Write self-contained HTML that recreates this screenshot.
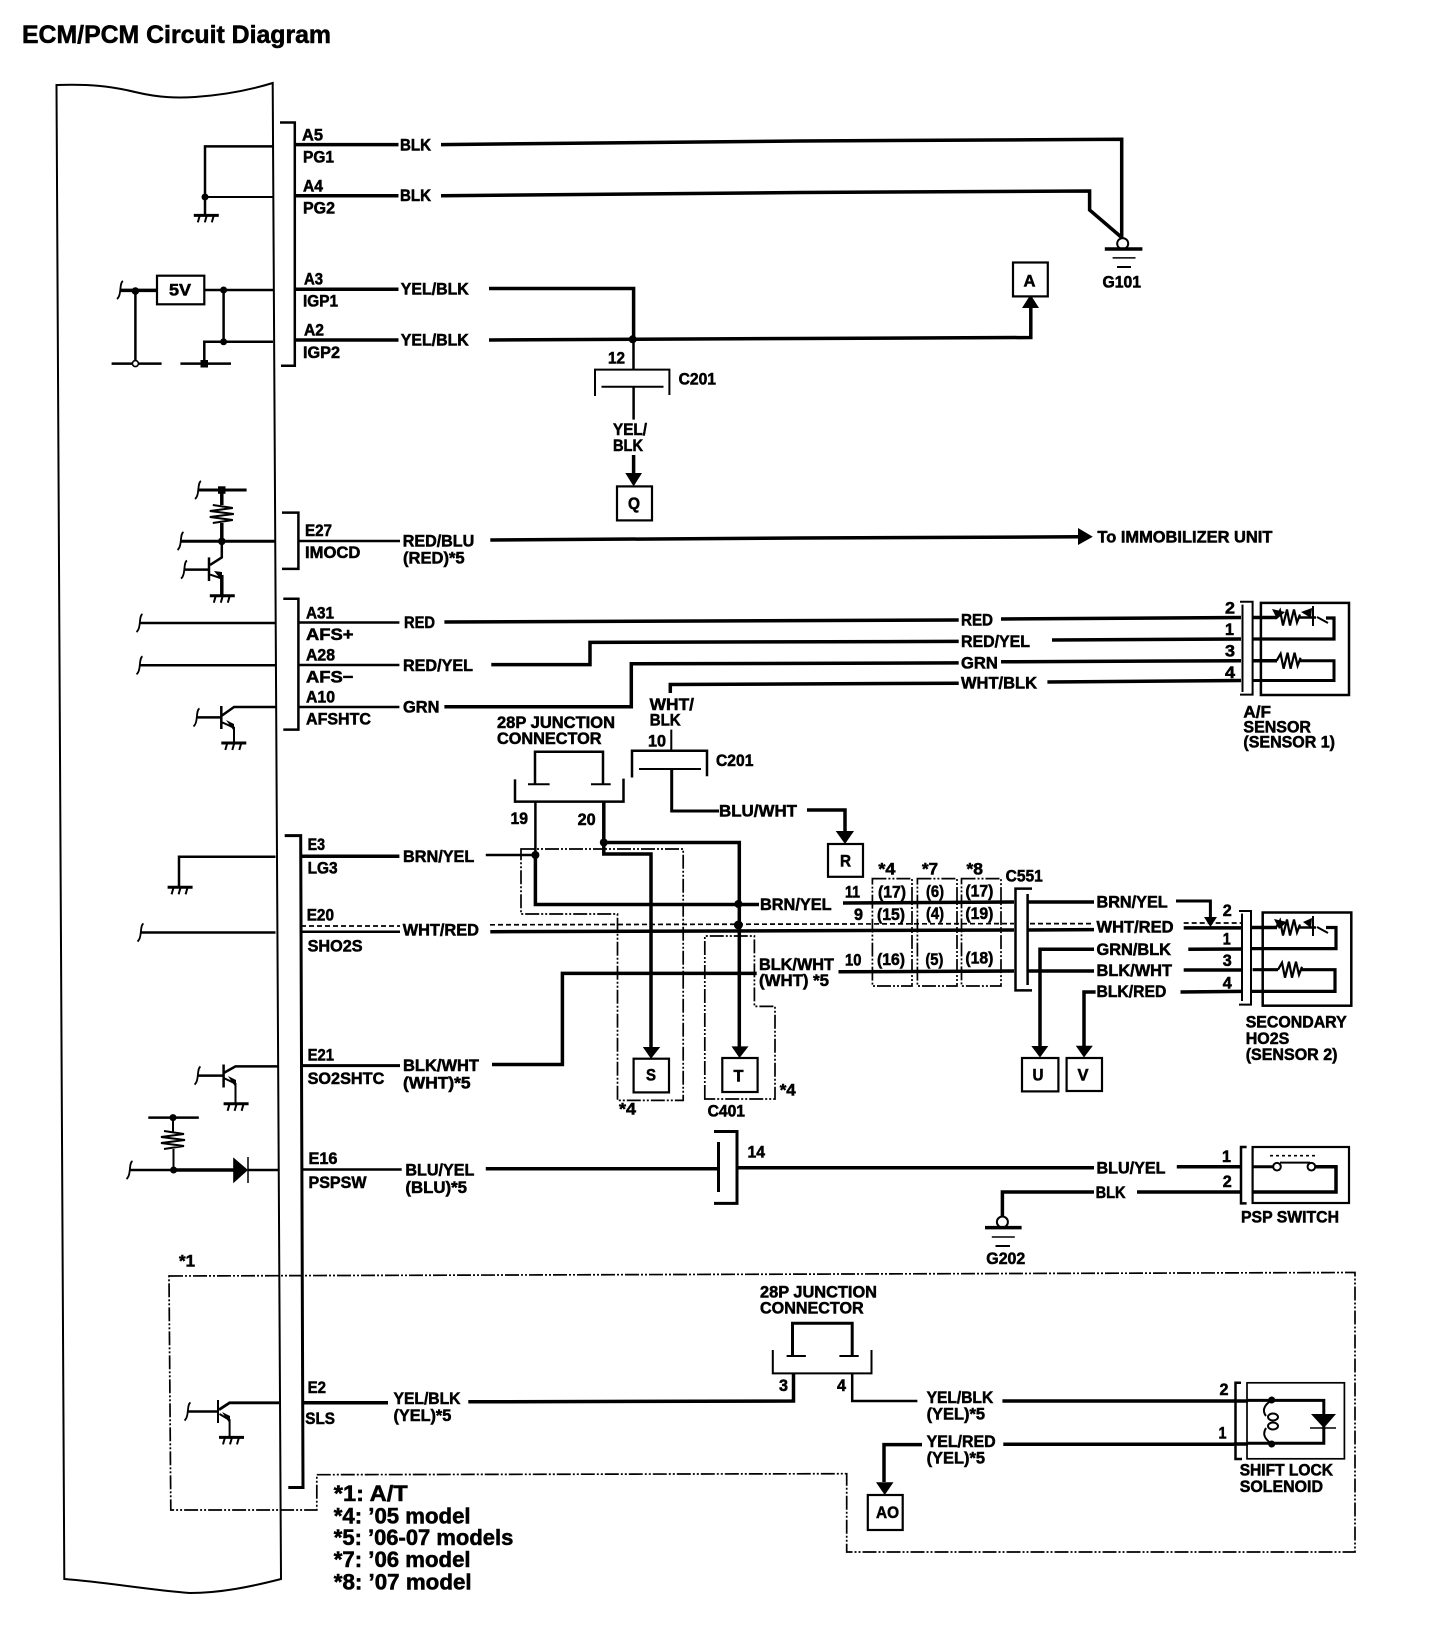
<!DOCTYPE html>
<html lang="en"><head><meta charset="utf-8"><title>ECM/PCM Circuit Diagram</title>
<style>
html,body{margin:0;padding:0;background:#fff}
svg{display:block}
text{font-family:"Liberation Sans",sans-serif;font-weight:700;font-size:17px;dominant-baseline:central;fill:#000;stroke:#000;stroke-width:.55}
.p{fill:none;stroke:#000;stroke-width:3.5}
.m{fill:none;stroke:#000;stroke-width:2.5}
.n{fill:none;stroke:#000;stroke-width:2}
.h{fill:none;stroke:#000;stroke-width:1.5}
.dd{fill:none;stroke:#000;stroke-width:1.7;stroke-dasharray:14 2 2 2 2 2}
.ds{fill:none;stroke:#000;stroke-width:1.7;stroke-dasharray:5 3}
.f{fill:#000;stroke:none}
.b{fill:#fff;stroke:#000;stroke-width:2.2}
</style></head><body>
<svg xmlns="http://www.w3.org/2000/svg" width="1440" height="1632" viewBox="0 0 1440 1632">
<defs>
<g id="gnd" fill="none" stroke="#000"><path d="M0 0H25" stroke-width="3"/><path d="M6 0L4 7M13 0L11 7M20 0L18 7" stroke-width="2"/></g>
<path id="sq" d="M3-9C-1-7 2 5-3 9" fill="none" stroke="#000" stroke-width="1.8"/>
<path id="res" d="M-9 0L11 3L-12 6L12 9L-12 12L11 15L-9 18" fill="none" stroke="#000" stroke-width="2"/>
<path id="zig" d="M0 0L4-7L7 8L11-8L14 8L18-8L21 5L24-3" fill="none" stroke="#000" stroke-width="2.2"/>
</defs>
<rect width="1440" height="1632" fill="#fff"/>

<text x="22" y="35" textLength="309" lengthAdjust="spacingAndGlyphs" style="font-size:25px">ECM/PCM Circuit Diagram</text>

<!-- body -->
<path class="n" d="M64.3 1579L56.5 85C90 84 110 86 135 92C160 98 178 98 195 97C225 95 250 90 272.7 83L281 1579C250 1587 220 1593 190 1593C150 1590 105 1582 64.3 1579Z"/>

<!-- A5..A2 bracket -->
<path class="m" d="M280 122.5H294.8V365.7H281"/>
<path class="p" d="M295 144.6H398.5"/>
<path class="p" d="M441 144.6L800 141L1121.7 139.3V237.5"/>
<path class="p" d="M295 195.7H398.5"/>
<path class="p" d="M441 195.7L800 192.5L1089.6 191V210L1121.7 237.5"/>
<circle class="n" cx="1122.7" cy="243.6" r="5.5" fill="#fff"/>
<path class="p" d="M1104.8 249H1142.4"/><path class="h" d="M1112.6 257.9H1135.5"/><path class="n" d="M1117 267H1131"/>
<text x="1102.5" y="282" textLength="38.5" lengthAdjust="spacingAndGlyphs">G101</text>

<path class="m" d="M272.7 146.4H205V215"/><path class="n" d="M205 197H273"/><circle class="f" cx="205" cy="197" r="3.5"/>
<use href="#gnd" x="193.8" y="215.4"/>

<!-- 5V -->
<use href="#sq" x="120" y="290"/>
<path class="p" d="M120 290.4H157"/>
<rect x="157" y="275.7" width="47.3" height="28.6" fill="#fff" stroke="#000" stroke-width="2.2"/>
<text x="169" y="290" textLength="22" lengthAdjust="spacingAndGlyphs">5V</text>
<path class="m" d="M135.4 291V363.6"/><circle class="f" cx="135.4" cy="291" r="3.8"/>
<path class="m" d="M111.6 363.6H161.6"/><circle cx="135.4" cy="363.6" r="3" fill="#fff" stroke="#000" stroke-width="1.6"/>
<path class="m" d="M204.3 290H273"/><circle class="f" cx="223.6" cy="290" r="3.5"/>
<path class="m" d="M223.6 290V341.8"/><circle class="f" cx="223.6" cy="341.8" r="3.5"/>
<path class="m" d="M273 341.8H204.3V363.6"/><path class="m" d="M180.4 363.6H231"/><rect class="f" x="200.5" y="360" width="7.5" height="7.5"/>

<text x="302" y="135" textLength="21" lengthAdjust="spacingAndGlyphs">A5</text>
<text x="303" y="157" textLength="31" lengthAdjust="spacingAndGlyphs">PG1</text>
<text x="303" y="186" textLength="20" lengthAdjust="spacingAndGlyphs">A4</text>
<text x="303" y="208" textLength="32" lengthAdjust="spacingAndGlyphs">PG2</text>
<text x="304" y="279" textLength="19" lengthAdjust="spacingAndGlyphs">A3</text>
<text x="303" y="301" textLength="35" lengthAdjust="spacingAndGlyphs">IGP1</text>
<text x="304" y="330" textLength="20" lengthAdjust="spacingAndGlyphs">A2</text>
<text x="303" y="352.5" textLength="37" lengthAdjust="spacingAndGlyphs">IGP2</text>
<text x="400" y="145" textLength="31" lengthAdjust="spacingAndGlyphs">BLK</text>
<text x="400" y="195.7" textLength="31" lengthAdjust="spacingAndGlyphs">BLK</text>
<text x="400.8" y="289" textLength="68" lengthAdjust="spacingAndGlyphs">YEL/BLK</text>
<text x="400.8" y="340" textLength="68" lengthAdjust="spacingAndGlyphs">YEL/BLK</text>

<path class="p" d="M295 289.3H398.5"/>
<path class="p" d="M489 288.5H633.6V339"/>
<path class="p" d="M295 340H398.5"/>
<path class="p" d="M489 340L800 338.5L1030.8 337.5V307"/>
<circle class="f" cx="632.7" cy="339.3" r="4"/>
<path class="f" d="M1030.5 294.6L1039 308H1022Z"/>
<rect class="b" x="1013" y="262.5" width="34.8" height="33.9"/>
<text x="1023.5" y="281" textLength="12" lengthAdjust="spacingAndGlyphs">A</text>

<!-- C201 top -->
<path class="m" d="M633.5 339V369"/>
<text x="608" y="358" textLength="17" lengthAdjust="spacingAndGlyphs">12</text>
<path class="n" d="M595 396V369.6H669.4V395"/>
<path class="n" d="M601.5 386.8H663.5"/>
<path class="m" d="M633.6 387V419.6"/>
<text x="678.6" y="379" textLength="37.4" lengthAdjust="spacingAndGlyphs">C201</text>
<text x="613" y="429.6" textLength="34" lengthAdjust="spacingAndGlyphs">YEL/</text>
<text x="613" y="445.4" textLength="30" lengthAdjust="spacingAndGlyphs">BLK</text>
<path class="p" d="M633.6 455V475"/><path class="f" d="M633.6 486.4L625.3 473H642Z"/>
<rect class="b" x="617" y="486.4" width="35" height="34"/>
<text x="628" y="503.6" textLength="12" lengthAdjust="spacingAndGlyphs">Q</text>

<!-- E27 -->
<use href="#sq" x="198" y="490"/>
<path class="m" d="M197.4 490H246.6" style="stroke-width:3"/><rect class="f" x="218" y="486.3" width="7.5" height="7.5"/>
<path class="p" d="M221.8 490V505"/><use href="#res" x="221.8" y="505"/><path class="p" d="M221.8 523V541"/>
<use href="#sq" x="180.5" y="541"/><path class="m" d="M180.4 541.3H275.5" style="stroke-width:3"/><circle class="f" cx="221.8" cy="541.3" r="3.8"/>
<use href="#sq" x="184" y="569.6"/><path class="m" d="M183.6 569.6H209"/><path class="m" d="M209 557.4V581"/>
<path class="m" d="M210 565L221.8 557.4V541"/><path class="n" d="M210 574.6L221.8 578.5"/><path class="p" d="M221.8 575V595.7"/><path class="f" d="M214 571L222 572L222 581Z"/>
<use href="#gnd" x="209.8" y="595.7"/>

<path class="m" d="M282 512.6H298.4V568.9H282"/>
<path class="m" d="M298.4 541H400"/>
<text x="305" y="530.6" textLength="27" lengthAdjust="spacingAndGlyphs">E27</text>
<text x="305" y="552.4" textLength="55.4" lengthAdjust="spacingAndGlyphs">IMOCD</text>
<text x="402.7" y="541" textLength="71.6" lengthAdjust="spacingAndGlyphs">RED/BLU</text>
<text x="403" y="558" textLength="61.6" lengthAdjust="spacingAndGlyphs">(RED)*5</text>
<path class="p" d="M490.3 540L800 538L1080 536.8"/><path class="f" d="M1092.8 536.8L1078 528V545Z"/>
<text x="1097.4" y="536.8" textLength="175" lengthAdjust="spacingAndGlyphs">To IMMOBILIZER UNIT</text>

<!-- AFS -->
<path class="m" d="M283.3 598.7H298.4V729.6H283.3"/>
<text x="306" y="613" textLength="28" lengthAdjust="spacingAndGlyphs">A31</text>
<text x="306" y="634.7" textLength="47.5" lengthAdjust="spacingAndGlyphs">AFS+</text>
<text x="306" y="655" textLength="29" lengthAdjust="spacingAndGlyphs">A28</text>
<text x="306" y="676.8" textLength="47.5" lengthAdjust="spacingAndGlyphs">AFS−</text>
<text x="306" y="697" textLength="29" lengthAdjust="spacingAndGlyphs">A10</text>
<text x="306" y="719" textLength="65" lengthAdjust="spacingAndGlyphs">AFSHTC</text>
<path class="m" d="M298 622.5H399.4"/><path class="m" d="M298 665H399.4"/><path class="m" d="M298 707H399.4"/>
<text x="404" y="622.5" textLength="31" lengthAdjust="spacingAndGlyphs">RED</text>
<text x="403" y="665.7" textLength="70" lengthAdjust="spacingAndGlyphs">RED/YEL</text>
<text x="403" y="707" textLength="36.4" lengthAdjust="spacingAndGlyphs">GRN</text>
<path class="p" d="M444.4 622L958.7 620"/>
<text x="961" y="620" textLength="32" lengthAdjust="spacingAndGlyphs">RED</text>
<path class="p" d="M1001 619L1241 617.5"/>
<path class="p" d="M491.3 664.6H590V642.4L958.7 641.4"/>
<text x="961" y="641.4" textLength="69" lengthAdjust="spacingAndGlyphs">RED/YEL</text>
<path class="p" d="M1052 640L1241 639"/>
<path class="p" d="M444.4 706.7H631.3V663.8L958.7 662.9"/>
<text x="961" y="662.9" textLength="36.8" lengthAdjust="spacingAndGlyphs">GRN</text>
<path class="p" d="M1001 661.8L1241 660.7"/>
<path class="p" d="M670.3 693V684.5L958.7 683.2"/>
<text x="961" y="683.2" textLength="76" lengthAdjust="spacingAndGlyphs">WHT/BLK</text>
<path class="p" d="M1047.4 682L1241 680.5"/>
<use href="#sq" x="139.5" y="623"/><path class="m" d="M139 623H275.5"/>
<use href="#sq" x="139.5" y="665.3"/><path class="m" d="M139 665.3H275.5"/>
<use href="#sq" x="196.5" y="717.4"/><path class="m" d="M196.5 717.4H221.3"/><path class="m" d="M221.3 706V729"/>
<path class="m" d="M275.5 707H234L221.3 716"/><path class="n" d="M221.3 722L234 727.7V743"/><path class="f" d="M226 720L234 724V731Z"/>
<use href="#gnd" x="221.3" y="743"/>

<!-- A/F sensor -->
<path class="n" d="M1240 601.8H1252.6V694.6H1240"/><path class="n" d="M1242.5 604.6V692"/>
<rect x="1260.9" y="602.9" width="88.1" height="92.1" fill="none" stroke="#000" stroke-width="2.5"/>
<text x="1225" y="608" textLength="10" lengthAdjust="spacingAndGlyphs">2</text>
<text x="1225" y="629.6" textLength="9" lengthAdjust="spacingAndGlyphs">1</text>
<text x="1225" y="651" textLength="10" lengthAdjust="spacingAndGlyphs">3</text>
<text x="1225" y="672.5" textLength="10" lengthAdjust="spacingAndGlyphs">4</text>
<path class="p" d="M1252.6 617.5H1277"/><use href="#zig" x="1276" y="617.5"/><path class="p" d="M1326 618H1334V639H1252.6" style="stroke-width:3.2"/>
<path class="m" d="M1298 617.5H1316"/>
<path class="n" d="M1313 606V626M1317 617L1328 623"/><path class="f" d="M1272 609L1285 612L1277 619ZM1301 612L1312 608L1311 618Z"/>
<path class="p" d="M1252.6 660.7H1277"/><use href="#zig" x="1276.6" y="660.7"/><path class="p" d="M1299 660.7H1334V680.5H1252.6" style="stroke-width:3"/>
<text x="1243.4" y="711.8" textLength="27.6" lengthAdjust="spacingAndGlyphs">A/F</text>
<text x="1243.4" y="726.8" textLength="67.6" lengthAdjust="spacingAndGlyphs">SENSOR</text>
<text x="1243.4" y="742" textLength="91.6" lengthAdjust="spacingAndGlyphs">(SENSOR 1)</text>

<!-- 28P junction top -->
<text x="497" y="722.7" textLength="118" lengthAdjust="spacingAndGlyphs">28P JUNCTION</text>
<text x="497" y="738.4" textLength="104.5" lengthAdjust="spacingAndGlyphs">CONNECTOR</text>
<path class="m" d="M535 784V751.8H603V784"/>
<path class="n" d="M528 784.3H549.6M591 784.3H610.7"/>
<path class="m" d="M515 779.4V801.6H623.5V778.6"/>
<text x="510.5" y="818.4" textLength="17.5" lengthAdjust="spacingAndGlyphs">19</text>
<text x="577.6" y="819.6" textLength="18" lengthAdjust="spacingAndGlyphs">20</text>
<path class="m" d="M535.4 801.6V855"/><path class="p" d="M535.4 855V904.5H759"/>
<circle class="f" cx="535.4" cy="855" r="4"/>
<path class="p" d="M603.8 801.6V854H651V1047"/><circle class="f" cx="603.8" cy="842.5" r="4"/>
<path class="p" d="M603.8 842.5H739.3V1047.5"/>
<path class="f" d="M651 1058.7L642.8 1047H660.2Z"/><path class="f" d="M739.5 1058L731.5 1046.4H748.5Z"/>
<rect class="b" x="633.6" y="1058.7" width="35.4" height="33.7"/><text x="646" y="1075" textLength="10" lengthAdjust="spacingAndGlyphs">S</text>
<rect class="b" x="722.3" y="1058" width="35.3" height="34"/><text x="733.5" y="1076" textLength="10" lengthAdjust="spacingAndGlyphs">T</text>
<circle class="f" cx="738.4" cy="904" r="4"/><circle class="f" cx="738.4" cy="925" r="4.5"/>

<!-- C201 lower -->
<text x="649.7" y="704.7" textLength="44.3" lengthAdjust="spacingAndGlyphs">WHT/</text>
<text x="649.7" y="720" textLength="31" lengthAdjust="spacingAndGlyphs">BLK</text>
<text x="648" y="741" textLength="18" lengthAdjust="spacingAndGlyphs">10</text>
<path class="n" d="M671.3 729.6V750.7"/>
<path class="m" d="M632 777.5V750.7H707V776.3"/><path class="n" d="M639 769H701"/>
<path class="m" d="M671.7 769.8V811H719" style="stroke-width:3"/>
<text x="719" y="811" textLength="78" lengthAdjust="spacingAndGlyphs">BLU/WHT</text>
<path class="p" d="M807 810H845V831"/><path class="f" d="M845 844L835.7 831H854Z"/>
<rect class="b" x="828" y="844" width="35" height="32.8"/><text x="840" y="861" textLength="11" lengthAdjust="spacingAndGlyphs">R</text>
<text x="716" y="760.6" textLength="37.4" lengthAdjust="spacingAndGlyphs">C201</text>

<!-- E3 rail -->
<path class="m" d="M284.7 835.6H300.7L303 1487.5H288.3" style="stroke-width:3"/>
<text x="307.6" y="844.4" textLength="17.4" lengthAdjust="spacingAndGlyphs">E3</text>
<text x="307.6" y="868" textLength="30" lengthAdjust="spacingAndGlyphs">LG3</text>
<path class="p" d="M301 856.3H399.4"/>
<text x="403" y="856.3" textLength="71.3" lengthAdjust="spacingAndGlyphs">BRN/YEL</text>
<path class="m" d="M485.8 855H535"/>
<path class="m" d="M275.5 856.7H179V886"/><use href="#gnd" x="167.6" y="887.3"/>

<text x="306.7" y="915" textLength="27.3" lengthAdjust="spacingAndGlyphs">E20</text>
<text x="307.6" y="946" textLength="55" lengthAdjust="spacingAndGlyphs">SHO2S</text>
<path class="m" d="M301 931.7H400"/><path class="ds" d="M301 926H400"/>
<text x="402.7" y="929.8" textLength="76.2" lengthAdjust="spacingAndGlyphs">WHT/RED</text>
<path class="p" d="M490.3 931.7L1014 930"/><path class="ds" d="M490 924.8L1014 923.6"/>
<path class="p" d="M1028 930L1094 929.6"/><path class="ds" d="M1030 923.6H1094"/>
<text x="1096.5" y="926.8" textLength="77" lengthAdjust="spacingAndGlyphs">WHT/RED</text>
<path class="ds" d="M1183.7 923H1241"/><path class="p" d="M1183.7 927.9H1241"/>
<use href="#sq" x="140.5" y="932.5"/><path class="m" d="M140 932.5H275.5"/>

<text x="307.6" y="1055" textLength="26.4" lengthAdjust="spacingAndGlyphs">E21</text>
<text x="307.6" y="1078.6" textLength="76.7" lengthAdjust="spacingAndGlyphs">SO2SHTC</text>
<path class="p" d="M301 1065.6H400" style="stroke-width:3"/>
<text x="403" y="1065.6" textLength="76" lengthAdjust="spacingAndGlyphs">BLK/WHT</text>
<text x="403" y="1082.9" textLength="67.6" lengthAdjust="spacingAndGlyphs">(WHT)*5</text>
<path class="p" d="M492 1064.5H562.4V973.4H756.7"/>
<text x="759" y="964.6" textLength="75" lengthAdjust="spacingAndGlyphs">BLK/WHT</text>
<text x="759" y="980.7" textLength="70" lengthAdjust="spacingAndGlyphs">(WHT) *5</text>
<path class="p" d="M838.5 971.8L1014 971"/><path class="p" d="M1028 971H1094"/>
<text x="1096.5" y="970.7" textLength="75.5" lengthAdjust="spacingAndGlyphs">BLK/WHT</text>
<path class="p" d="M1183.7 970H1241"/>

<!-- dash-dot regions -->
<path class="dd" d="M521 849H683.2V1100.4H617.5V914H521Z"/>
<path class="dd" d="M704.8 1099V936H754.4V1006.4H775V1099Z"/>
<text x="779.7" y="1090" textLength="16" lengthAdjust="spacingAndGlyphs">*4</text>
<text x="619" y="1109" textLength="17" lengthAdjust="spacingAndGlyphs">*4</text>
<text x="707.6" y="1111" textLength="37.4" lengthAdjust="spacingAndGlyphs">C401</text>

<!-- table -->
<rect class="dd" x="872.4" y="878.6" width="39.6" height="107.4"/>
<rect class="dd" x="917.4" y="878.6" width="39.6" height="107.4"/>
<rect class="dd" x="961.5" y="878.6" width="39.5" height="107.4"/>
<text x="878.4" y="869" textLength="17" lengthAdjust="spacingAndGlyphs">*4</text>
<text x="922" y="869" textLength="16" lengthAdjust="spacingAndGlyphs">*7</text>
<text x="966.5" y="869" textLength="16.5" lengthAdjust="spacingAndGlyphs">*8</text>
<text x="878" y="892" textLength="28" lengthAdjust="spacingAndGlyphs">(17)</text>
<text x="877" y="914.6" textLength="28" lengthAdjust="spacingAndGlyphs">(15)</text>
<text x="877" y="959.3" textLength="28" lengthAdjust="spacingAndGlyphs">(16)</text>
<text x="926" y="891.4" textLength="18" lengthAdjust="spacingAndGlyphs">(6)</text>
<text x="926" y="913.6" textLength="18" lengthAdjust="spacingAndGlyphs">(4)</text>
<text x="925.4" y="959.3" textLength="18" lengthAdjust="spacingAndGlyphs">(5)</text>
<text x="965.4" y="891" textLength="28" lengthAdjust="spacingAndGlyphs">(17)</text>
<text x="965.4" y="913.6" textLength="28" lengthAdjust="spacingAndGlyphs">(19)</text>
<text x="965.4" y="958" textLength="28" lengthAdjust="spacingAndGlyphs">(18)</text>
<text x="760" y="904.6" textLength="71.6" lengthAdjust="spacingAndGlyphs">BRN/YEL</text>
<text x="845" y="892" textLength="15" lengthAdjust="spacingAndGlyphs">11</text>
<text x="854" y="914.3" textLength="9" lengthAdjust="spacingAndGlyphs">9</text>
<text x="845" y="960" textLength="16.4" lengthAdjust="spacingAndGlyphs">10</text>
<path class="p" d="M843 903L1014 902"/><path class="p" d="M1028 902H1094"/>

<!-- C551 -->
<text x="1005.6" y="876" textLength="37.2" lengthAdjust="spacingAndGlyphs">C551</text>
<path class="m" d="M1032 888.6H1015.5V990.4H1032"/><path class="m" d="M1027.6 894V985"/>
<text x="1096.5" y="902" textLength="71.2" lengthAdjust="spacingAndGlyphs">BRN/YEL</text>
<path class="m" d="M1176 901H1210.4V918" style="stroke-width:3"/><path class="f" d="M1210.4 927L1204 917H1217Z"/>
<text x="1096.5" y="949.3" textLength="74.5" lengthAdjust="spacingAndGlyphs">GRN/BLK</text>
<path class="p" d="M1094 949.3H1040V1047"/><path class="f" d="M1040 1057.5L1031.3 1046H1048.3Z"/>
<path class="p" d="M1188.3 949.3L1241 949"/>
<rect class="b" x="1022" y="1058" width="36.4" height="33.4"/><text x="1032.5" y="1075" textLength="11" lengthAdjust="spacingAndGlyphs">U</text>
<text x="1096.5" y="991.4" textLength="69.8" lengthAdjust="spacingAndGlyphs">BLK/RED</text>
<path class="p" d="M1095.6 992H1084V1046"/><path class="f" d="M1084 1057.5L1075.8 1045.7H1092.8Z"/>
<path class="p" d="M1180.5 992L1241 991.4"/>
<rect class="b" x="1066.6" y="1058" width="35.4" height="33"/><text x="1077.5" y="1075" textLength="11" lengthAdjust="spacingAndGlyphs">V</text>

<!-- secondary sensor -->
<path class="n" d="M1239 911H1251V1004.6H1239"/><path class="n" d="M1242 913.6V1001"/>
<rect x="1262.7" y="912.5" width="88.6" height="93.2" fill="none" stroke="#000" stroke-width="2.5"/>
<text x="1222.7" y="910.7" textLength="9" lengthAdjust="spacingAndGlyphs">2</text>
<text x="1222.7" y="939" textLength="8" lengthAdjust="spacingAndGlyphs">1</text>
<text x="1222.7" y="960.7" textLength="9" lengthAdjust="spacingAndGlyphs">3</text>
<text x="1222.7" y="983" textLength="9" lengthAdjust="spacingAndGlyphs">4</text>
<path class="p" d="M1251 927.5H1277"/><use href="#zig" x="1276" y="927.5"/><path class="m" d="M1298 927.5H1316"/>
<path class="p" d="M1326 927.5H1336V948.6H1251" style="stroke-width:3.2"/>
<path class="n" d="M1313 916V936M1317 927L1328 933"/><path class="f" d="M1274 919L1287 922L1279 929ZM1303 922L1312 918L1311 928Z"/>
<path class="p" d="M1252.6 969.7H1278" style="stroke-width:3.2"/><use href="#zig" x="1278" y="969.7"/><path class="p" d="M1301 969.7H1335V991.4H1252" style="stroke-width:3.2"/>
<text x="1245.7" y="1021.8" textLength="101" lengthAdjust="spacingAndGlyphs">SECONDARY</text>
<text x="1245.7" y="1038.6" textLength="43.6" lengthAdjust="spacingAndGlyphs">HO2S</text>
<text x="1245.7" y="1054.6" textLength="91.8" lengthAdjust="spacingAndGlyphs">(SENSOR 2)</text>

<!-- E21 transistor -->
<use href="#sq" x="197.5" y="1075.6"/><path class="m" d="M197.4 1075.6H223.6"/><path class="m" d="M223.6 1064.5V1087.5"/>
<path class="m" d="M277.8 1066.4H235.5L223.6 1073"/><path class="n" d="M223.6 1078L235.5 1083.6V1103.8"/><path class="f" d="M228 1076L236 1080V1088Z"/>
<use href="#gnd" x="223.6" y="1103.8"/>

<!-- E16 -->
<path class="m" d="M148.3 1117.6H198.8"/><circle class="f" cx="173" cy="1117.6" r="3.5"/>
<path class="n" d="M173 1117.6V1132"/><use href="#res" x="173" y="1131"/><path class="n" d="M173.5 1149V1170"/>
<use href="#sq" x="129.5" y="1170"/><path class="m" d="M129.5 1170H173.6"/><path class="p" d="M173.6 1170H234"/><circle class="f" cx="173.6" cy="1170" r="3.5"/>
<path class="f" d="M233.2 1157.4V1183.3L248 1170Z"/><path class="h" d="M248 1157V1183"/><path class="m" d="M248 1170H279"/>
<text x="308.5" y="1158.4" textLength="29" lengthAdjust="spacingAndGlyphs">E16</text>
<text x="308.5" y="1182.6" textLength="58" lengthAdjust="spacingAndGlyphs">PSPSW</text>
<path class="m" d="M302 1169.5H401.7"/>
<text x="405.4" y="1170" textLength="69" lengthAdjust="spacingAndGlyphs">BLU/YEL</text>
<text x="405.4" y="1187.5" textLength="61.6" lengthAdjust="spacingAndGlyphs">(BLU)*5</text>
<path class="p" d="M485.8 1168.8H718"/>
<path class="m" d="M714 1131.5H737V1203.4H714" style="stroke-width:3"/><path class="m" d="M718.5 1142V1192" style="stroke-width:3"/>
<text x="747.5" y="1152" textLength="17.5" lengthAdjust="spacingAndGlyphs">14</text>
<path class="p" d="M737.4 1167.8H1094"/>
<text x="1096.5" y="1167.8" textLength="69" lengthAdjust="spacingAndGlyphs">BLU/YEL</text>
<path class="p" d="M1176.8 1166.7H1241"/>
<text x="1222" y="1156.7" textLength="9" lengthAdjust="spacingAndGlyphs">1</text>
<text x="1222.7" y="1181.6" textLength="9" lengthAdjust="spacingAndGlyphs">2</text>
<text x="1095.6" y="1192.3" textLength="30" lengthAdjust="spacingAndGlyphs">BLK</text>
<path class="p" d="M1094 1192H1002.4V1217"/>
<circle class="n" cx="1002.4" cy="1222" r="5.5" fill="#fff"/>
<path class="p" d="M985 1227.6H1021.6"/><path class="h" d="M991.8 1237H1014.8"/><path class="n" d="M995.5 1246H1010"/>
<text x="986.3" y="1258.7" textLength="39" lengthAdjust="spacingAndGlyphs">G202</text>
<path class="p" d="M1137 1192H1241"/>
<path class="m" d="M1246.6 1147H1241V1203.4H1246.6"/>
<rect x="1252.6" y="1147" width="96.4" height="56" fill="none" stroke="#000" stroke-width="2.2"/>
<path class="ds" d="M1270 1155.7H1316" style="stroke-dasharray:3 3"/>
<path class="p" d="M1252.6 1166.7H1273" style="stroke-width:3"/><circle class="n" cx="1277" cy="1166.7" r="3.8"/><circle class="n" cx="1311.4" cy="1166.7" r="3.8"/>
<path class="n" d="M1280 1162.6H1310"/><path class="p" d="M1314.6 1166.7H1336V1192H1252.6"/>
<text x="1241" y="1216.9" textLength="98" lengthAdjust="spacingAndGlyphs">PSP SWITCH</text>

<!-- A/T region -->
<text x="179" y="1261" textLength="16" lengthAdjust="spacingAndGlyphs">*1</text>
<path class="dd" d="M169 1276L1355 1272.5V1552H846.7V1473.7L316.8 1474.7V1510H170.8Z"/>

<text x="307.6" y="1387.3" textLength="18.4" lengthAdjust="spacingAndGlyphs">E2</text>
<text x="305.3" y="1418.4" textLength="29.7" lengthAdjust="spacingAndGlyphs">SLS</text>
<path class="p" d="M303 1402.8H388"/>
<text x="393.5" y="1398.7" textLength="67" lengthAdjust="spacingAndGlyphs">YEL/BLK</text>
<text x="393.5" y="1415.6" textLength="57.8" lengthAdjust="spacingAndGlyphs">(YEL)*5</text>
<path class="p" d="M468.3 1401.8L793.5 1401V1373.4"/>
<use href="#sq" x="187.5" y="1411.5"/><path class="m" d="M187.3 1411.5H218"/><path class="n" d="M218 1400V1423"/>
<path class="p" d="M279 1402.8H229.6L219 1409.7" style="stroke-width:2.8"/><path class="n" d="M219.5 1414L229.6 1420V1437.4"/><path class="f" d="M222 1412L230 1416V1424Z"/>
<use href="#gnd" x="219" y="1437.4"/>

<text x="760" y="1292.2" textLength="117" lengthAdjust="spacingAndGlyphs">28P JUNCTION</text>
<text x="760" y="1307.8" textLength="103.7" lengthAdjust="spacingAndGlyphs">CONNECTOR</text>
<path class="m" d="M792.5 1356V1323.3H852.2V1356" style="stroke-width:3"/>
<path class="n" d="M786.6 1356H805.9M839.4 1356H858.7"/>
<path class="n" d="M772.8 1350V1373.4H871.5V1350"/>
<text x="779" y="1385.5" textLength="9" lengthAdjust="spacingAndGlyphs">3</text>
<text x="837" y="1385.5" textLength="9" lengthAdjust="spacingAndGlyphs">4</text>
<path class="m" d="M852.2 1373V1401H917.4"/>
<text x="926.6" y="1397.6" textLength="66.6" lengthAdjust="spacingAndGlyphs">YEL/BLK</text>
<text x="926.6" y="1414.2" textLength="58.4" lengthAdjust="spacingAndGlyphs">(YEL)*5</text>
<path class="p" d="M1002.4 1401H1234"/>
<text x="1219.5" y="1389.3" textLength="9" lengthAdjust="spacingAndGlyphs">2</text>
<text x="926.6" y="1441.5" textLength="69" lengthAdjust="spacingAndGlyphs">YEL/RED</text>
<text x="926.6" y="1458" textLength="58.4" lengthAdjust="spacingAndGlyphs">(YEL)*5</text>
<path class="p" d="M922 1444.6H884V1482"/><path class="f" d="M884.7 1495L876 1482.3H893.5Z"/>
<path class="p" d="M1003.3 1444.3H1234"/>
<text x="1218.5" y="1433" textLength="8" lengthAdjust="spacingAndGlyphs">1</text>
<rect class="b" x="867.8" y="1495" width="34.9" height="35"/>
<text x="876" y="1512.4" textLength="23" lengthAdjust="spacingAndGlyphs">AO</text>
<path class="m" d="M1241 1382.8H1235.5V1459H1242"/>
<rect x="1247" y="1382.8" width="97.4" height="76" fill="none" stroke="#000" stroke-width="1.7"/>
<path class="m" d="M1234 1401H1248M1234 1444H1248" style="stroke-width:3.5"/>
<path class="m" d="M1248 1400.4H1323.8V1443.3H1248" style="stroke-width:3"/>
<path class="f" d="M1311 1414H1336L1323.8 1428Z"/><path class="h" d="M1310 1428H1336"/>
<circle class="f" cx="1271.7" cy="1400" r="3.5"/><circle class="f" cx="1271.7" cy="1444" r="3.5"/>
<path class="n" d="M1272 1400C1262 1406 1263 1412 1266 1416M1266 1428C1263 1433 1263 1438 1272 1444"/>
<ellipse class="n" cx="1273" cy="1417" rx="5" ry="3.5"/><ellipse class="n" cx="1273" cy="1426" rx="5" ry="3.5"/>
<text x="1239.7" y="1470" textLength="93.3" lengthAdjust="spacingAndGlyphs">SHIFT LOCK</text>
<text x="1239.7" y="1486.5" textLength="83.3" lengthAdjust="spacingAndGlyphs">SOLENOID</text>

<!-- legend -->
<text x="333.8" y="1493.4" textLength="73.9" lengthAdjust="spacingAndGlyphs" style="font-size:22px">*1: A/T</text>
<text x="333.8" y="1515.8" textLength="136.8" lengthAdjust="spacingAndGlyphs" style="font-size:22px">*4: ’05 model</text>
<text x="333.8" y="1537.6" textLength="179.5" lengthAdjust="spacingAndGlyphs" style="font-size:22px">*5: ’06-07 models</text>
<text x="333.8" y="1559.4" textLength="136.8" lengthAdjust="spacingAndGlyphs" style="font-size:22px">*7: ’06 model</text>
<text x="333.8" y="1582" textLength="137.8" lengthAdjust="spacingAndGlyphs" style="font-size:22px">*8: ’07 model</text>
</svg>
</body></html>
